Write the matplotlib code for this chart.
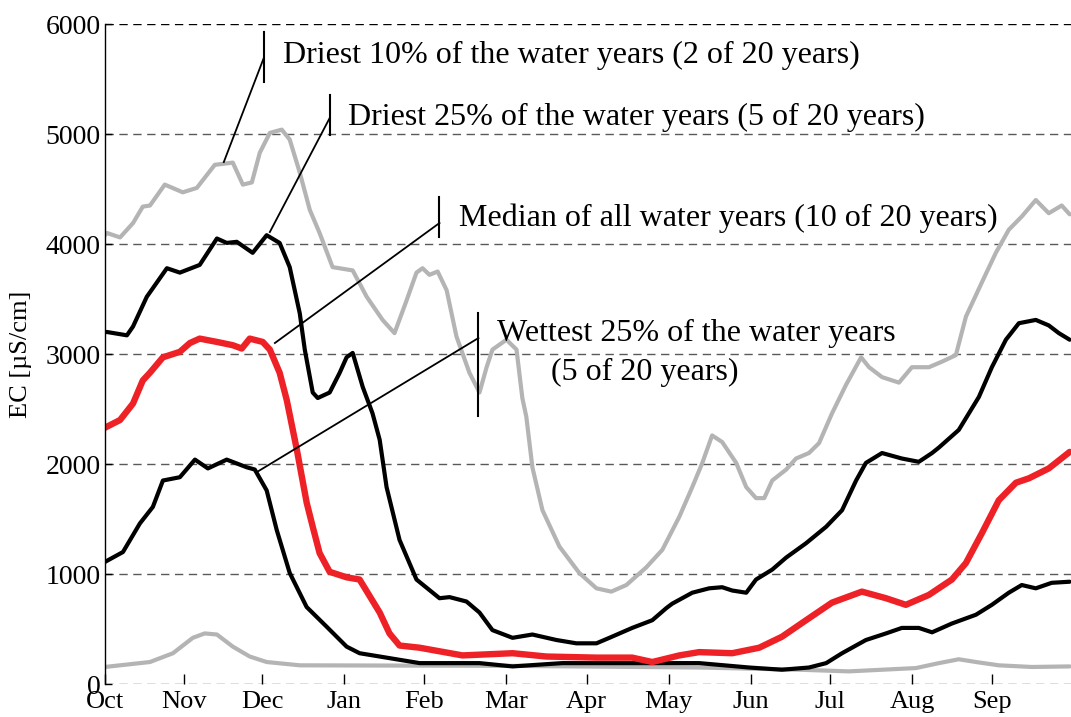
import matplotlib
matplotlib.use("Agg")
import matplotlib.pyplot as plt

plt.rcParams["font.family"] = ["Liberation Serif", "DejaVu Serif"]

# Water-year day (Oct 1 = 0) and EC values for each exceedance group
dry10_day = [0, 0.8, 5.7, 10.6, 14.3, 17.0, 22.6, 29.4, 34.7, 41.5, 48.3, 52.1, 55.5, 58.5,
             62.3, 66.8, 69.8, 73.6, 77.4, 81.1, 86.0, 93.6, 98.9, 104.9, 109.4, 114.0, 117.7,
             120.0, 122.6, 125.7, 129.1, 132.8, 137.7, 141.5, 144.2, 146.4, 151.7, 155.5, 157.7,
             159.2, 161.5, 165.3, 171.7, 179.2, 185.7, 191.3, 197.0, 204.5, 210.6, 217.0, 221.9,
             225.7, 229.4, 233.2, 238.5, 242.3, 246.0, 249.1, 252.1, 257.4, 261.1, 266.0, 269.8,
             274.7, 280.0, 285.7, 288.7, 293.6, 300.0, 304.9, 311.3, 316.2, 321.5, 325.3, 331.3,
             336.6, 341.5, 346.4, 351.7, 356.6, 361.5, 364.5]
dry10_ec = [4080, 4100, 4060, 4190, 4340, 4350, 4540, 4470, 4510, 4720, 4740, 4540, 4560, 4830,
            5010, 5040, 4950, 4650, 4310, 4100, 3790, 3760, 3520, 3310, 3190, 3490, 3740,
            3780, 3720, 3750, 3580, 3160, 2830, 2650, 2880, 3040, 3130, 3040, 2600,
            2430, 1970, 1580, 1250, 1010, 870, 840, 900, 1060, 1220, 1520, 1790,
            2010, 2260, 2200, 2010, 1790, 1690, 1690, 1850, 1950, 2050, 2100, 2190,
            2460, 2720, 2970, 2880, 2790, 2740, 2880, 2880, 2930, 2990, 3340, 3650,
            3920, 4130, 4250, 4400, 4280, 4350, 4270]

dry25_day = [0, 0.8, 8.3, 10.6, 15.8, 23.4, 28.3, 35.8, 42.3, 46.0, 49.8, 55.8, 61.1, 66.0,
             69.8, 73.6, 75.5, 78.5, 80.4, 84.9, 88.7, 91.3, 93.6, 97.4, 101.1, 103.8, 106.4,
             111.3, 117.7, 126.4, 130.2, 136.6, 141.5, 146.4, 154.0, 161.5, 170.6, 178.1, 185.7,
             190.6, 199.2, 206.8, 212.1, 214.3, 221.9, 228.3, 233.2, 237.0, 242.3, 246.0, 252.1,
             257.4, 264.9, 272.5, 278.5, 283.8, 287.5, 293.6, 301.1, 307.5, 312.5, 315.1, 322.6,
             330.2, 335.1, 340.4, 345.3, 351.7, 356.6, 360.4, 364.5]
dry25_ec = [3200, 3200, 3170, 3250, 3520, 3780, 3740, 3810, 4050, 4010, 4020, 3920, 4080, 4010,
            3790, 3370, 3040, 2650, 2600, 2650, 2830, 2970, 3010, 2700, 2460, 2220, 1790,
            1310, 950, 780, 790, 750, 650, 490, 420, 450, 400, 370, 370,
            420, 510, 580, 690, 730, 830, 870, 880, 850, 830, 950, 1040,
            1150, 1280, 1430, 1580, 1850, 2010, 2100, 2050, 2020, 2100, 2150, 2310,
            2610, 2880, 3130, 3280, 3310, 3260, 3190, 3130]

median_day = [0, 0.8, 5.7, 10.6, 14.3, 17.0, 21.9, 28.3, 32.1, 35.8, 42.3, 48.3, 51.7, 54.7,
              59.6, 62.3, 66.0, 68.7, 72.5, 76.2, 78.5, 81.1, 84.9, 91.3, 96.2, 103.8, 107.5,
              111.3, 118.9, 135.1, 154.0, 166.8, 185.7, 199.2, 206.8, 217.0, 224.5, 237.0, 247.2,
              255.8, 264.9, 274.7, 286.0, 295.1, 302.6, 311.3, 320.0, 325.3, 331.3, 337.7, 344.2,
              349.1, 356.6, 364.5]
median_ec = [2330, 2340, 2400, 2550, 2760, 2830, 2970, 3020, 3100, 3140, 3110, 3080, 3050, 3140,
             3110, 3040, 2830, 2580, 2130, 1650, 1430, 1190, 1020, 970, 950, 650, 460,
             350, 330, 260, 280, 250, 240, 240, 200, 260, 290, 280, 330,
             430, 580, 740, 840, 780, 720, 810, 950, 1100, 1370, 1670, 1830,
             1870, 1960, 2110]

wet25_day = [0, 6.8, 13.2, 18.1, 21.9, 28.3, 34.0, 38.9, 46.0, 53.6, 56.6, 61.1, 64.9, 69.8,
             76.2, 83.8, 91.3, 96.2, 103.8, 118.9, 141.5, 154.0, 172.8, 198.1, 217.0, 224.5,
             243.4, 255.8, 266.0, 272.5, 278.5, 287.5, 295.1, 301.1, 307.5, 312.5, 320.0, 329.1,
             335.1, 341.5, 346.4, 351.7, 357.7, 364.5]
wet25_ec = [1110, 1200, 1460, 1610, 1850, 1880, 2040, 1960, 2040, 1970, 1950, 1760, 1400, 1010,
            700, 520, 340, 280, 250, 190, 190, 160, 190, 190, 190, 190,
            150, 130, 150, 190, 280, 400, 460, 510, 510, 470, 550, 630,
            720, 830, 900, 870, 920, 930]

wet10_day = [0, 17.0, 25.7, 33.2, 37.7, 42.3, 48.3, 54.7, 61.1, 73.6, 154.0, 224.5, 262.3,
             281.1, 306.4, 315.1, 322.6, 329.1, 337.7, 350.2, 364.5]
wet10_ec = [155, 200, 280, 420, 460, 450, 340, 250, 200, 170, 165, 150, 130,
            115, 145, 190, 225, 200, 170, 155, 160]

month_ticks = [0, 30, 59.5, 90.5, 120.5, 151.5, 182, 213, 244, 274, 305, 335]
month_labels = ["Oct", "Nov", "Dec", "Jan", "Feb", "Mar", "Apr", "May", "Jun", "Jul", "Aug", "Sep"]
ec_ticks = [0, 1000, 2000, 3000, 4000, 5000, 6000]

GRAY = "#b4b4b4"
RED = "#ee2126"

fig = plt.figure(figsize=(10.71, 7.17), dpi=100)
ax = fig.add_axes([0.098, 0.046, 0.902, 0.9205])

line_kw = dict(solid_joinstyle="round", solid_capstyle="round")
ax.plot(wet10_day, wet10_ec, color=GRAY, lw=3.0, **line_kw)
ax.plot(dry10_day, dry10_ec, color=GRAY, lw=3.0, **line_kw)
ax.plot(wet25_day, wet25_ec, color="black", lw=3.0, **line_kw)
ax.plot(dry25_day, dry25_ec, color="black", lw=3.0, **line_kw)
ax.plot(median_day, median_ec, color=RED, lw=4.6, **line_kw)

ax.set_xlim(0, 365)
ax.set_ylim(0, 6000)
ax.set_xticks(month_ticks)
ax.set_xticklabels(month_labels)
ax.set_yticks(ec_ticks)
ax.set_yticklabels([str(v) for v in ec_ticks])
ax.tick_params(axis="both", direction="in", width=1, color="black")
ax.tick_params(axis="x", length=7, pad=5, labelsize=19)
ax.tick_params(axis="y", length=5, pad=3, labelsize=20)
ax.set_ylabel("EC [µS/cm]", fontsize=19, labelpad=10)

for s in ("top", "right", "bottom"):
    ax.spines[s].set_visible(False)
ax.spines["left"].set_linewidth(1.0)

for v in ec_ticks:
    ax.axhline(v, color="black" if v == 6000 else "0.35", lw=1.0,
               dashes=(6, 4), zorder=0)

# Leader lines and labels for each curve
labels = [
    dict(pt=(44.9, 4745), bar_x=60.0, bar=(5473, 5927), end_y=5691,
         txt=(67.2, 5718), s="Driest 10% of the water years (2 of 20 years)"),
    dict(pt=(62.3, 4109), bar_x=84.9, bar=(4991, 5355), end_y=5145,
         txt=(91.7, 5155), s="Driest 25% of the water years (5 of 20 years)"),
    dict(pt=(64.2, 3100), bar_x=126.4, bar=(4064, 4427), end_y=4191,
         txt=(133.6, 4236), s="Median of all water years (10 of 20 years)"),
    dict(pt=(57.4, 1927), bar_x=141.1, bar=(2436, 3373), end_y=3145,
         txt=(148.3, 3191), s="Wettest 25% of the water years"),
]
for lab in labels:
    ax.plot([lab["pt"][0], lab["bar_x"]], [lab["pt"][1], lab["end_y"]],
            color="black", lw=1.3)
    ax.plot([lab["bar_x"], lab["bar_x"]], lab["bar"], color="black", lw=1.5)
    ax.text(lab["txt"][0], lab["txt"][1], lab["s"], fontsize=23,
            ha="left", va="center")
ax.text(168.7, 2836, "(5 of 20 years)", fontsize=23, ha="left", va="center")

fig.savefig("out.png", dpi=100)
